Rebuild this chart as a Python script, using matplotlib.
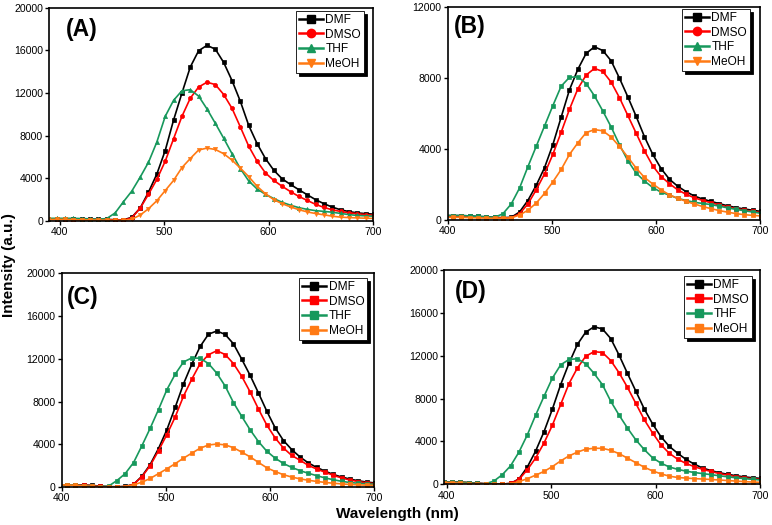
import matplotlib
matplotlib.use('Agg')
import matplotlib.pyplot as plt
from matplotlib.lines import Line2D

plt.rcParams['font.family'] = ['Liberation Sans', 'DejaVu Sans']

wavelength = [389, 397, 405, 413, 421, 429, 437, 445, 453, 461,
              469, 477, 485, 493, 501, 509, 517, 525, 533, 541,
              549, 557, 565, 573, 581, 589, 597, 605, 613, 621,
              629, 637, 645, 653, 661, 669, 677, 685, 693, 701]

solvents = ['DMF', 'DMSO', 'THF', 'MeOH']

# Panel A
A_DMF = [200,200,200,200,180,170,160,150,120,100, 350,1200,2700,4400,6600,9450,11980,14420,15950,16450,
         16100,14850,13150,11200,8950,7250,5850,4750,3950,3420, 2930,2460,2000,1620,1300,1050,880,760,690,640]
A_DMSO = [150,150,150,140,130,120,110,100,90,80, 300,1200,2500,3900,5600,7700,9800,11500,12550,13000,
          12780,11850,10550,8800,7000,5600,4500,3800,3250,2750, 2300,1930,1560,1270,1050,890,770,680,600,540]
A_THF = [250,250,250,250,230,200,150,230,750,1800, 2800,4100,5500,7400,9800,11300,12200,12300,11700,10500,
         9150,7750,6300,4900,3750,3000,2500,2100,1750,1480, 1250,1090,970,900,820,710,600,520,480,450]
A_MeOH = [150,150,150,120,100,100,80,80,60,60, 170,550,1150,1900,2850,3800,5000,5850,6650,6830,
          6700,6300,5700,4950,4150,3250,2550,2000,1620,1320, 1060,850,700,580,450,360,320,290,260,240]

# Panel B
B_DMF = [250,250,250,250,230,200,180,150,130,150, 450,1100,1950,2950,4250,5800,7350,8500,9400,9770,
         9560,8980,8000,6950,5850,4700,3700,2900,2300,1900, 1600,1350,1180,1050,920,800,700,620,550,480]
B_DMSO = [200,200,200,200,180,160,140,120,110,130, 350,900,1700,2600,3700,4950,6250,7400,8180,8550,
          8380,7780,6900,5900,4900,3900,3050,2450,2050,1700, 1450,1250,1100,970,850,740,640,560,480,420]
B_THF = [250,250,250,250,230,200,180,150,350,900, 1800,3000,4150,5300,6450,7550,8050,8080,7700,7000,
         6150,5250,4250,3350,2650,2200,1830,1570,1400,1220, 1100,1000,930,870,780,680,600,520,450,380]
B_MeOH = [150,150,150,150,130,120,110,100,100,120, 280,550,950,1500,2150,2850,3700,4350,4930,5100,
          5030,4680,4150,3550,2930,2400,2030,1700,1420,1220, 1050,900,760,640,530,440,360,300,260,230]

# Panel C
C_DMF = [200,200,200,200,180,150,80,30,20,50, 250,1000,2100,3600,5350,7450,9650,11500,13150,14300,
         14600,14280,13400,11950,10450,8800,7100,5550,4350,3500, 2800,2250,1830,1480,1170,930,740,580,460,380]
C_DMSO = [200,200,200,200,170,120,60,20,20,30, 250,950,2000,3400,4900,6550,8500,10100,11550,12380,
          12750,12400,11550,10350,8900,7300,5800,4600,3650,2950, 2500,2020,1680,1380,1090,840,650,510,390,310]
C_THF = [200,200,200,180,120,60,20,80,600,1250, 2280,3850,5500,7250,9100,10550,11700,12080,12050,11550,
         10650,9450,7900,6600,5350,4250,3350,2700,2200,1830, 1530,1280,1060,850,680,530,420,350,290,250]
C_MeOH = [200,200,200,150,100,50,20,10,10,30, 200,450,800,1250,1700,2180,2700,3170,3630,3930,
          4020,3940,3680,3260,2820,2300,1800,1450,1150,930, 760,630,520,430,350,290,240,200,170,150]

# Panel D
D_DMF = [200,200,200,200,150,100,50,20,20,80, 500,1600,3100,4900,7000,9300,11300,13050,14200,14700,
         14500,13600,12050,10350,8700,7050,5650,4450,3550,2900, 2330,1880,1520,1280,1080,930,800,690,610,550]
D_DMSO = [200,200,200,200,150,100,50,20,20,80, 450,1350,2450,3850,5500,7450,9400,10850,11950,12380,
          12300,11550,10400,9050,7550,6050,4800,3700,2900,2350, 1950,1650,1400,1200,1000,850,720,600,520,460]
D_THF = [200,200,200,200,150,80,50,300,890,1720, 3000,4600,6450,8200,9900,11150,11650,11720,11250,10350,
         9300,7750,6450,5250,4150,3250,2480,1980,1620,1400, 1230,1100,1000,900,800,700,610,530,460,400]
D_MeOH = [150,150,150,100,60,30,10,10,10,40, 250,520,850,1200,1650,2180,2650,3000,3280,3360,
          3360,3170,2860,2440,2020,1600,1250,980,760,640, 580,530,490,450,400,350,300,250,210,180]

x_ticks = [400, 500, 600, 700]
yticks_20k = [0, 4000, 8000, 12000, 16000, 20000]
yticks_12k = [0, 4000, 8000, 12000]

colors = ['#000000', '#FF0000', '#17985C', '#FF7A14']

panels = [
    dict(label='(A)', data=[A_DMF, A_DMSO, A_THF, A_MeOH], rect=[49.3, 7.5, 373, 221],
         xlim=(390, 700), ylim=(0, 20000), yticks=yticks_20k,
         markers=['s', 'o', '^', 'v'], leg_markers=['s', 'o', '^', 'v'],
         leg_anchor=(0.972, 0.984), lab_pos=(0.052, 0.899)),
    dict(label='(B)', data=[B_DMF, B_DMSO, B_THF, B_MeOH], rect=[447.7, 7.3, 760, 220],
         xlim=(400, 700), ylim=(0, 12000), yticks=yticks_12k,
         markers=['s', 's', 's', 's'], leg_markers=['s', 'o', '^', 'v'],
         leg_anchor=(0.968, 0.992), lab_pos=(0.020, 0.912)),
    dict(label='(C)', data=[C_DMF, C_DMSO, C_THF, C_MeOH], rect=[61.7, 273.3, 374, 487],
         xlim=(400, 700), ylim=(0, 20000), yticks=yticks_20k,
         markers=['s', 's', 's', 's'], leg_markers=['s', 's', 's', 's'],
         leg_anchor=(0.978, 0.978), lab_pos=(0.018, 0.889)),
    dict(label='(D)', data=[D_DMF, D_DMSO, D_THF, D_MeOH], rect=[444.3, 270, 760, 484.3],
         xlim=(397.5, 700), ylim=(0, 20000), yticks=yticks_20k,
         markers=['s', 's', 's', 's'], leg_markers=['s', 's', 's', 's'],
         leg_anchor=(0.975, 0.972), lab_pos=(0.032, 0.900)),
]

W, H = 772, 525
fig = plt.figure(figsize=(W / 100, H / 100), dpi=100)

for p in panels:
    l, t, r, b = p['rect']
    ax = fig.add_axes([l / W, 1 - b / H, (r - l) / W, (b - t) / H])
    for ys, c, m in zip(p['data'], colors, p['markers']):
        ax.plot(wavelength, ys, color=c, lw=1.2, marker=m, ms=3.0,
                mec=c, mfc=c, mew=0.5, clip_on=True)
    ax.set_xlim(*p['xlim'])
    ax.set_ylim(*p['ylim'])
    ax.set_xticks(x_ticks)
    ax.set_yticks(p['yticks'])
    ax.tick_params(direction='out', length=3, width=1, labelsize=7.6, pad=1.5)
    for s in ax.spines.values():
        s.set_linewidth(1.2)
    handles = [Line2D([], [], color=c, lw=1.8, marker=m, ms=6, mec=c, mfc=c)
               for c, m in zip(colors, p['leg_markers'])]
    leg = ax.legend(handles, solvents, loc='upper right', bbox_to_anchor=p['leg_anchor'],
                    borderaxespad=0, fontsize=8.6, frameon=True, fancybox=False,
                    shadow={'color': 'black', 'alpha': 1.0},
                    handlelength=2.0, handletextpad=0.2, labelspacing=0.22,
                    borderpad=0.25, framealpha=1)
    leg.get_frame().set_edgecolor('black')
    leg.get_frame().set_linewidth(0.6)
    ax.text(p['lab_pos'][0], p['lab_pos'][1], p['label'], transform=ax.transAxes,
            fontsize=16.5, fontweight='bold', ha='left', va='center')

fig.text(9 / W, 1 - 265 / H, 'Intensity (a.u.)', rotation=90, fontsize=11,
         fontweight='bold', ha='center', va='center')
fig.text(397 / W, 1 - 514 / H, 'Wavelength (nm)', fontsize=11,
         fontweight='bold', ha='center', va='center')

fig.savefig('out.png', dpi=100)
